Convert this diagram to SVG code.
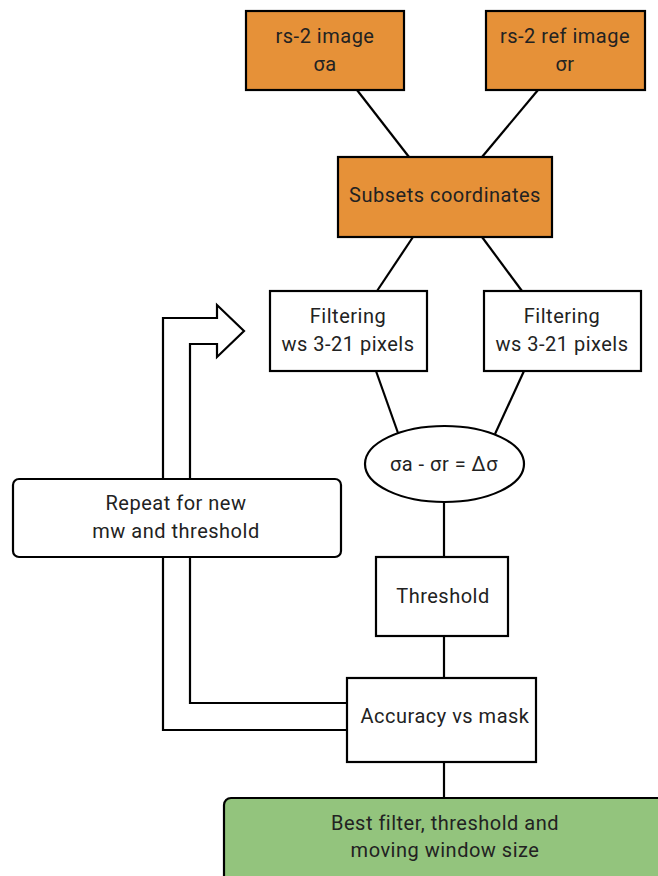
<svg xmlns="http://www.w3.org/2000/svg" width="658" height="876" viewBox="0 0 658 876">
<style>
  .box { stroke: #000; stroke-width: 2.2; }
  .orange { fill: #e69138; }
  .white { fill: #fff; }
  .green { fill: #93c47d; }
  .lbl { font-family: Roboto, "Liberation Sans", sans-serif; font-size: 20px; letter-spacing: 0.5px; fill: #222; text-anchor: middle; }
  .conn { stroke: #000; stroke-width: 2.2; fill: none; }
</style>
<rect width="658" height="876" fill="#fff"/>
<g id="connectors">
  <line class="conn" x1="357" y1="90" x2="409" y2="157"/>
  <line class="conn" x1="538" y1="90" x2="482" y2="157"/>
  <line class="conn" x1="413" y1="237" x2="377" y2="291"/>
  <line class="conn" x1="482" y1="237" x2="522" y2="291"/>
  <line class="conn" x1="376" y1="371" x2="398" y2="433"/>
  <line class="conn" x1="524" y1="371" x2="495" y2="434"/>
  <line class="conn" x1="444" y1="502" x2="444" y2="557"/>
  <line class="conn" x1="444" y1="636" x2="444" y2="678"/>
  <line class="conn" x1="444" y1="762" x2="444" y2="798"/>
  <polygon class="conn" fill="#fff" points="163,479 163,318 217,318 217,305 244,331 217,357 217,344 190,344 190,479"/>
  <polyline class="conn" points="163,557 163,730 347,730"/>
  <polyline class="conn" points="190,557 190,703 347,703"/>
</g>
<g id="rs2-image">
  <rect class="box orange" x="246" y="11" width="158" height="79"/>
  <text class="lbl" x="325" y="43">rs-2 image</text>
  <text class="lbl" x="325" y="71">σa</text>
</g>
<g id="rs2-ref-image">
  <rect class="box orange" x="486" y="11" width="159" height="79"/>
  <text class="lbl" x="565" y="43">rs-2 ref image</text>
  <text class="lbl" x="565" y="71">σr</text>
</g>
<g id="subsets">
  <rect class="box orange" x="338" y="157" width="214" height="80"/>
  <text class="lbl" x="445" y="202">Subsets coordinates</text>
</g>
<g id="filter-left">
  <rect class="box white" x="270" y="291" width="157" height="80"/>
  <text class="lbl" x="348" y="323">Filtering</text>
  <text class="lbl" x="348" y="351">ws 3-21 pixels</text>
</g>
<g id="filter-right">
  <rect class="box white" x="484" y="291" width="157" height="80"/>
  <text class="lbl" x="562" y="323">Filtering</text>
  <text class="lbl" x="562" y="351">ws 3-21 pixels</text>
</g>
<g id="difference">
  <ellipse class="box white" cx="444.5" cy="464" rx="79.5" ry="38"/>
  <text class="lbl" x="444" y="471">σa - σr = Δσ</text>
</g>
<g id="threshold">
  <rect class="box white" x="376" y="557" width="132" height="79"/>
  <text class="lbl" x="443" y="603">Threshold</text>
</g>
<g id="accuracy">
  <rect class="box white" x="347" y="678" width="189" height="84"/>
  <text class="lbl" x="445" y="723">Accuracy vs mask</text>
</g>
<g id="repeat">
  <rect class="box white" x="13" y="479" width="328" height="78" rx="6"/>
  <text class="lbl" x="176" y="510">Repeat for new</text>
  <text class="lbl" x="176" y="538">mw and threshold</text>
</g>
<g id="best">
  <rect class="box green" x="224" y="798" width="450" height="100" rx="7"/>
  <text class="lbl" x="445" y="830">Best filter, threshold and</text>
  <text class="lbl" x="445" y="857">moving window size</text>
</g>
</svg>
